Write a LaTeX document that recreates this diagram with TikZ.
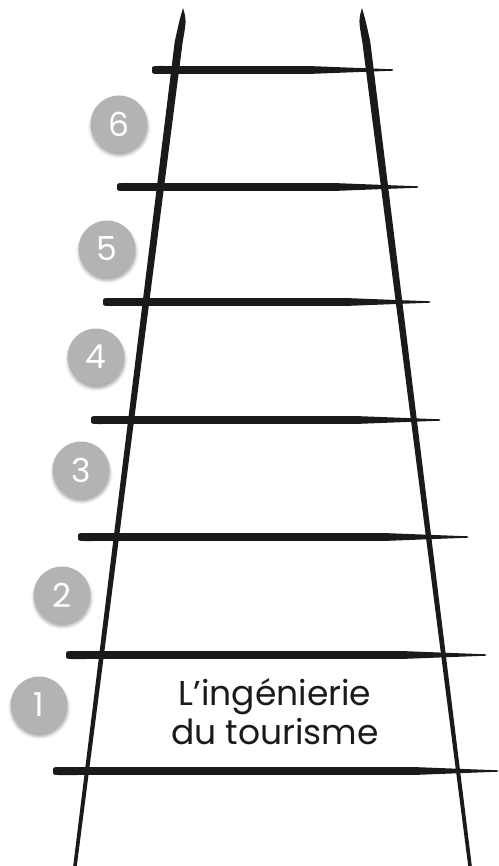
\documentclass[tikz,border=0pt]{standalone}
\usepackage{fontspec}
\setmainfont{Poppins}
\usepackage{tikz}
\usetikzlibrary{
shadows.blur,
calc
}
\definecolor{LadderInk}{HTML}{1A1A1A}
\definecolor{BadgeGray}{HTML}{B3B3B3}

\tikzset{
badge/.style={circle, fill=BadgeGray, text=white, minimum size=57pt, inner sep=0pt,
  font=\fontsize{33}{33}\selectfont,
  blur shadow={shadow xshift=0.5pt, shadow yshift=-3pt, shadow blur radius=3pt, shadow opacity=35}},
title/.style={align=center, text=LadderInk, font=\fontsize{34.5}{39}\selectfont}
}

\begin{document}
\begin{tikzpicture}[x=1pt, y=-1pt]
\useasboundingbox (0,0) rectangle (498,866);
\foreach \xt/\xb in {183/75, 362/470}
  \fill[LadderInk] (\xt,8) .. controls ({\xt+3.5},20) .. ({\xt+0.04*(\xb-\xt)+4},42)
    -- ({\xb+1.8},866) -- ({\xb-1.8},866)
    -- ({\xt+0.04*(\xb-\xt)-4},42) .. controls ({\xt-3.5},20) .. (\xt,8) -- cycle;
\foreach \y/\a/\b in {70/152/393, 187/117/418, 302/103/430, 420/91/440, 537/78/468, 655/66/486, 771/53/498}
  \fill[LadderInk] (\a,\y) .. controls (\a,{\y-4}) .. ({\a+8},{\y-4})
    -- ({\b-80},{\y-3.8}) -- (\b,{\y-0.7}) -- (\b,{\y+0.7}) -- ({\b-80},{\y+3.8})
    -- ({\a+8},{\y+4}) .. controls (\a,{\y+4}) .. (\a,\y) -- cycle;
\foreach \n/\x/\y in {1/39/705, 2/62/595, 3/81/470, 4/96/357, 5/107/249, 6/119/124}
  \node[badge] (c\n) at (\x,\y) {\n};
\node[title] (lbl) at (275,712) {L’ingénierie\\du tourisme};
\end{tikzpicture}
\end{document}
